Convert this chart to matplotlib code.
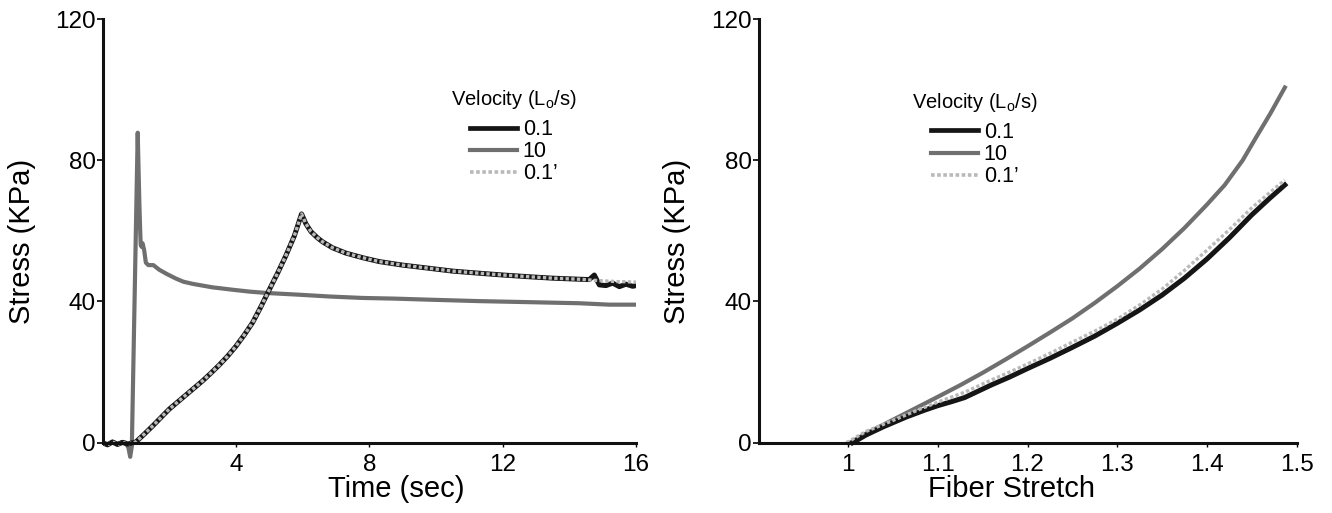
import matplotlib
matplotlib.use("Agg")
import matplotlib.pyplot as plt
from matplotlib.lines import Line2D

plt.rcParams['font.family'] = ['Liberation Sans', 'DejaVu Sans']

# ---- left panel: stress vs time ----
time_01 = [0, 0.15, 0.3, 0.45, 0.6, 0.75, 0.9, 1.0, 1.25, 1.5, 1.75, 2.0, 2.25, 2.5,
           2.75, 3.0, 3.25, 3.5, 3.75, 4.0, 4.25, 4.5, 4.75, 5.0, 5.25, 5.5, 5.75,
           5.97, 6.1, 6.25, 6.45, 6.6, 6.9, 7.3, 7.8, 8.3, 9.0, 9.8, 10.5, 11.3,
           12.0, 12.8, 13.5, 14.3, 14.6, 14.75, 14.9, 15.1, 15.3, 15.5, 15.7, 15.9, 16.0]
stress_01 = [0, -0.6, 0.2, -0.5, 0.1, -0.4, 0, 0.2, 2.4, 4.7, 7.1, 9.5, 11.5, 13.5,
             15.5, 17.5, 19.7, 22.0, 24.5, 27.3, 30.5, 34.0, 38.5, 43.3, 48.0, 53.0, 58.5,
             64.8, 62.0, 59.8, 58.0, 56.9, 55.2, 53.7, 52.4, 51.3, 50.3, 49.4, 48.6, 48.0,
             47.5, 47.0, 46.6, 46.3, 46.2, 47.5, 44.7, 44.5, 45.2, 44.2, 44.9, 44.3, 44.5]
stress_01b = [0, -0.6, 0.2, -0.5, 0.1, -0.4, 0, 0.2, 2.4, 4.7, 7.1, 9.5, 11.5, 13.5,
              15.5, 17.5, 19.7, 22.0, 24.5, 27.3, 30.5, 34.0, 38.5, 43.3, 48.0, 53.0, 58.5,
              64.8, 62.0, 59.8, 58.0, 56.9, 55.2, 53.7, 52.4, 51.3, 50.3, 49.4, 48.6, 48.0,
              47.5, 47.0, 46.6, 46.3, 46.1, 46.0, 45.9, 45.8, 45.7, 45.6, 45.6, 45.5, 45.5]

time_10 = [0, 0.15, 0.3, 0.45, 0.6, 0.7, 0.78, 0.83, 0.88, 1.056, 1.08, 1.105, 1.13,
           1.146, 1.17, 1.2, 1.25, 1.3, 1.375, 1.525, 1.7, 1.925, 2.2, 2.425, 2.7, 3.3,
           3.925, 4.4, 4.93, 5.925, 6.825, 7.8, 8.8, 9.825, 11.3, 12.83, 14.3, 15.2, 16.0]
stress_10 = [0, -0.5, 0.3, -0.3, 0.2, 0, -1.5, -4.0, -1.0, 87.8, 78, 68, 60,
             56, 55.5, 56.5, 54.5, 51, 50.3, 50.3, 49, 47.8, 46.5, 45.6, 45.0, 44.0,
             43.3, 42.8, 42.4, 41.9, 41.4, 41.0, 40.8, 40.5, 40.1, 39.8, 39.5, 39.1, 39.1]

# ---- right panel: stress vs fiber stretch ----
stretch_01 = [1.005, 1.02, 1.04, 1.065, 1.085, 1.10, 1.115, 1.13, 1.145, 1.16, 1.18,
              1.20, 1.225, 1.25, 1.275, 1.30, 1.325, 1.35, 1.375, 1.40, 1.425, 1.45,
              1.47, 1.487]
stress_r01 = [0, 2.2, 4.6, 7.3, 9.2, 10.5, 11.6, 12.8, 14.6, 16.4, 18.6,
              21.0, 23.9, 27.0, 30.2, 33.8, 37.6, 41.8, 46.6, 52.0, 58.0, 64.5,
              69.2, 73.0]

stretch_01b = [0.998, 1.02, 1.047, 1.08, 1.10, 1.13, 1.16, 1.18, 1.20, 1.225, 1.25,
               1.275, 1.30, 1.325, 1.35, 1.375, 1.40, 1.425, 1.45, 1.47, 1.487]
stress_r01b = [0, 3.2, 6.0, 9.5, 11.5, 14.3, 17.8, 20.0, 22.3, 25.3, 28.5,
               31.6, 35.0, 39.0, 43.5, 48.8, 54.5, 60.3, 66.5, 70.8, 74.4]

stretch_10 = [1.002, 1.02, 1.04, 1.06, 1.08, 1.10, 1.125, 1.15, 1.175, 1.20, 1.225,
              1.25, 1.275, 1.30, 1.325, 1.35, 1.375, 1.40, 1.42, 1.44, 1.455, 1.471, 1.487]
stress_r10 = [0, 2.6, 5.2, 7.8, 10.4, 13.0, 16.3, 19.8, 23.5, 27.3, 31.2,
              35.2, 39.6, 44.3, 49.3, 54.8, 60.8, 67.4, 73.0, 80.0, 86.5, 93.3, 100.6]

legend_labels = ['0.1', '10', "0.1\u2019"]
yticks = [0, 40, 80, 120]
left_xticks = [4, 8, 12, 16]
right_xticks = [1, 1.1, 1.2, 1.3, 1.4, 1.5]
right_xticklabels = ['1', '1.1', '1.2', '1.3', '1.4', '1.5']

BLACK = '#151515'
GRAY = '#6f6f6f'
LIGHT = '#b9b9b9'
DOT = (0, (1.0, 0.7))

fig = plt.figure(figsize=(13.32, 5.13), dpi=100)
H = 513.0
W = 1332.0
bottom = (H - 463.9) / H
height = 444.9 / H
ax1 = fig.add_axes([102.5 / W, bottom, 533.5 / W, height])
ax2 = fig.add_axes([758.5 / W, bottom, 538.0 / W, height])


def style(ax):
    ax.set_ylim(-6, 120)
    for s in ['top', 'right']:
        ax.spines[s].set_visible(False)
    ax.spines['bottom'].set_position(('data', 0))
    ax.spines['left'].set_bounds(0, 120)
    for s in ['bottom', 'left']:
        ax.spines[s].set_linewidth(2.2)
        ax.spines[s].set_color('#111111')
    ax.set_yticks(yticks)
    ax.tick_params(axis='y', length=4, width=1.2, pad=1, labelsize=17.5)
    ax.tick_params(axis='x', length=3, width=1.0, pad=5, labelsize=17.5)
    ax.set_ylabel('Stress (KPa)', fontsize=21)
    ax.yaxis.set_label_coords(-0.125, 0.5)


def add_legend(ax, xc, yt):
    handles = [Line2D([], [], color=BLACK, lw=3.4),
               Line2D([], [], color=GRAY, lw=3.0),
               Line2D([], [], color=LIGHT, lw=2.6, linestyle=DOT)]
    leg = ax.legend(handles, legend_labels, title='Velocity (L$_\\mathregular{o}$/s)',
                    loc='upper center', bbox_to_anchor=(xc, yt), frameon=False,
                    fontsize=15.5, title_fontsize=14.5, handlelength=2.2,
                    handletextpad=0.25, labelspacing=0.05, borderpad=0,
                    borderaxespad=0)
    leg._legend_box.sep = 6
    return leg


# left
style(ax1)
ax1.plot(time_10, stress_10, color=GRAY, lw=3.0, solid_joinstyle='round')
ax1.plot(time_01, stress_01, color=BLACK, lw=3.6, solid_joinstyle='round')
ax1.plot(time_01, stress_01b, color=LIGHT, lw=2.4, linestyle=DOT)
ax1.set_xlim(0, 16)
ax1.set_xticks(left_xticks)
ax1.set_xlabel('Time (sec)', fontsize=21)
ax1.xaxis.set_label_coords(0.55, -0.026)
add_legend(ax1, 0.771, 0.845)

# right
style(ax2)
ax2.plot(stretch_10, stress_r10, color=GRAY, lw=3.0)
ax2.plot(stretch_01, stress_r01, color=BLACK, lw=3.6)
ax2.plot(stretch_01b, stress_r01b, color=LIGHT, lw=2.4, linestyle=DOT)
ax2.set_xlim(0.9, 1.5)
ax2.set_xticks(right_xticks)
ax2.set_xticklabels(right_xticklabels)
ax2.set_xlabel('Fiber Stretch', fontsize=21)
ax2.xaxis.set_label_coords(0.471, -0.026)
add_legend(ax2, 0.402, 0.839)

fig.savefig('out.png', dpi=100)
